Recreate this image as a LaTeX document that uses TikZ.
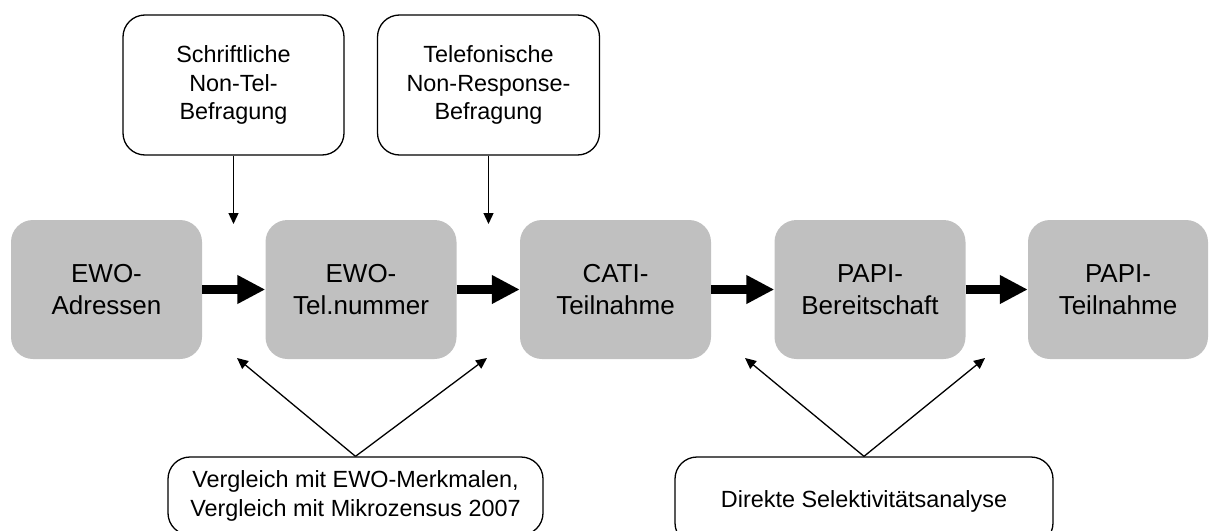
\documentclass[tikz,border=0pt]{standalone}
\usepackage{fontspec}
\setmainfont{Liberation Sans}
\usetikzlibrary{arrows.meta}
\definecolor{boxgray}{RGB}{192,192,192}
\tikzset{
  stage/.style={fill=boxgray, rounded corners=22pt, minimum height=139pt, inner sep=0pt,
    align=center, font=\fontsize{26}{32}\selectfont},
  note/.style={draw, line width=1.3pt, rounded corners=22pt, inner sep=0pt,
    align=center, font=\fontsize{23.4}{28.5}\selectfont},
  flow/.style={line width=9pt, -{Triangle[length=28pt,width=27pt]}},
  hint/.style={line width=1.3pt, -{Triangle[length=11pt,width=10pt]}}
}
\begin{document}
\begin{tikzpicture}[x=1pt, y=-1pt, line join=round]
			\useasboundingbox (0,0) rectangle (1209,530);
			\clip (0,0) rectangle (1209,530);
			% stages of the sample
			\foreach \n/\x/\w/\t in {adr/106.5/191/{EWO-\\Adressen},
				tel/361/191/{EWO-\\Tel.nummer},
				cati/615.5/191/{CATI-\\Teilnahme},
				bereit/870/191/{PAPI-\\Bereitschaft},
				teil/1118/180/{PAPI-\\Teilnahme}}
			\node[stage, minimum width=\w pt] (\n) at (\x,289.5) {\t};
			\foreach \a/\b in {adr/tel,tel/cati,cati/bereit,bereit/teil}
			\draw[flow] (\a) -- (\b);
			% surveys above
			\node[note, minimum width=221pt, minimum height=140pt] (schrift) at (233.5,85)
				{Schriftliche\\Non-Tel-\\Befragung};
			\node[note, minimum width=222pt, minimum height=140pt] (nonresp) at (488.5,85)
				{Telefonische\\Non-Response-\\Befragung};
			% analyses below
			\node[note, minimum width=375pt, minimum height=78pt] (vergl) at (355.5,496)
				{Vergleich mit EWO-Merkmalen,\\Vergleich mit Mikrozensus 2007};
			\node[note, minimum width=378pt, minimum height=88pt] (selekt) at (864,501)
				{Direkte Selektivitätsanalyse};
			\path (233.5,224) coordinate (G1)
			(488.5,224) coordinate (G2)
			(237,358) coordinate (U1)
			(487,358) coordinate (U2)
			(745,358) coordinate (U3)
			(985,358) coordinate (U4);
			\draw[hint] (schrift) -- (G1);
			\draw[hint] (nonresp) -- (G2);
			\foreach \u in {U1,U2}
			\draw[hint] (vergl.north) -- (\u);
			\foreach \u in {U3,U4}
			\draw[hint] (selekt.north) -- (\u);
\end{tikzpicture}
\end{document}
